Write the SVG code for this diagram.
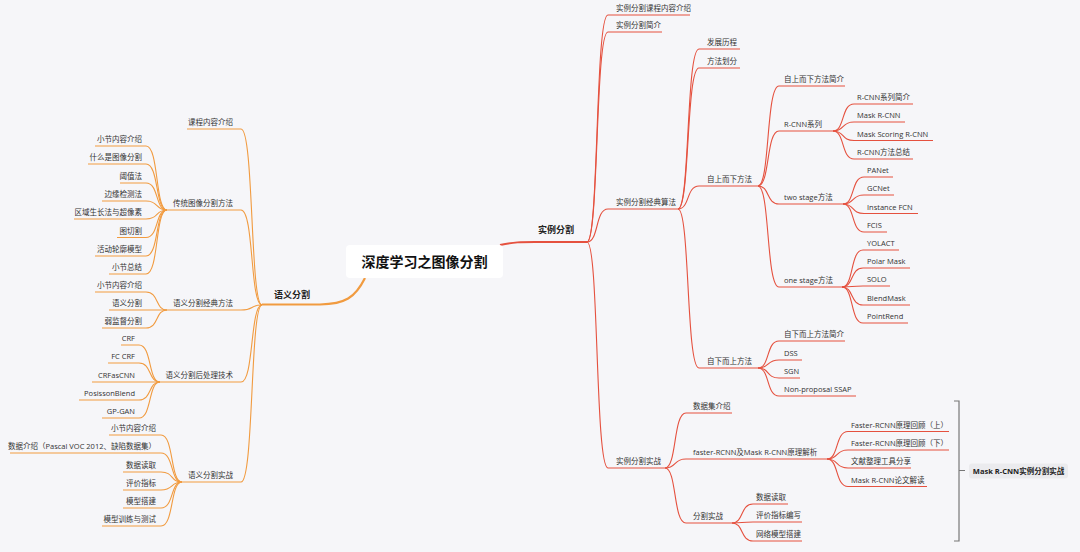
<svg xmlns="http://www.w3.org/2000/svg" width="1080" height="552" viewBox="0 0 1080 552">
<style>
.o{fill:none;stroke:#F19B40;stroke-width:1.1}
.r{fill:none;stroke:#E5513F;stroke-width:1.1}
.t{font-family:"Open Sans","Noto Sans CJK SC",sans-serif;font-size:7.5px;fill:#333}
.e{text-anchor:end}
.m{font-family:"Open Sans","Noto Sans CJK SC",sans-serif;font-size:9px;font-weight:bold;fill:#222}
</style>
<rect width="1080" height="552" fill="#F6F6F9"/>
<g id="connectors">
<path d="M500 245 C515 242 520 242 535 242 H587" class="r" style="stroke-width:2"/>
<path d="M365 278 C355 298 345 304 320 304.5 H262" class="o" style="stroke-width:2.2"/>
<g class="r">
<path d="M587 242 C599 242 595 15 608 15 H690"/>
<path d="M587 242 C599 242 595 32 608 32 H662"/>
<path d="M587 242 C599 242 595 209 608 209 H678"/>
<path d="M587 242 C599 242 595 468 608 468 H665"/>
<path d="M678 209 C690 209 686 49 699 49 H740"/>
<path d="M678 209 C690 209 686 68 699 68 H740"/>
<path d="M678 209 C690 209 686 186 699 186 H758"/>
<path d="M678 209 C690 209 686 368 699 368 H758"/>
<path d="M758 186 C770 186 766 86 779 86 H845"/>
<path d="M758 186 C770 186 766 131 779 131 H833"/>
<path d="M758 186 C770 186 766 204 779 204 H843"/>
<path d="M758 186 C770 186 766 287 779 287 H842"/>
<path d="M833 131 C845 131 841 104 854 104 H913"/>
<path d="M833 131 C845 131 841 122 854 122 H905"/>
<path d="M833 131 C845 131 841 140.5 854 140.5 H933"/>
<path d="M833 131 C845 131 841 159 854 159 H913"/>
<path d="M843 204 C855 204 851 177 864 177 H893"/>
<path d="M843 204 C855 204 851 195 864 195 H894"/>
<path d="M843 204 C855 204 851 213.5 864 213.5 H918"/>
<path d="M843 204 C855 204 851 232 864 232 H887"/>
<path d="M842 287 C854 287 850 250 863 250 H899"/>
<path d="M842 287 C854 287 850 268 863 268 H910"/>
<path d="M842 287 C854 287 850 286 863 286 H890"/>
<path d="M842 287 C854 287 850 305 863 305 H910"/>
<path d="M842 287 C854 287 850 323 863 323 H908"/>
<path d="M758 368 C770 368 766 341 779 341 H845"/>
<path d="M758 368 C770 368 766 360 779 360 H802"/>
<path d="M758 368 C770 368 766 378 779 378 H800"/>
<path d="M758 368 C770 368 766 396 779 396 H856"/>
<path d="M665 468 C677 468 673 413 686 413 H732"/>
<path d="M665 468 C677 468 673 459 686 459 H827"/>
<path d="M665 468 C677 468 673 523 686 523 H732"/>
<path d="M827 459 C839 459 835 431.5 848 431.5 H949"/>
<path d="M827 459 C839 459 835 450 848 450 H949"/>
<path d="M827 459 C839 459 835 468 848 468 H911"/>
<path d="M827 459 C839 459 835 486.5 848 486.5 H927"/>
<path d="M732 523 C744 523 740 504 753 504 H788"/>
<path d="M732 523 C744 523 740 522 753 522 H802"/>
<path d="M732 523 C744 523 740 541 753 541 H802"/>
</g>
<g class="o">
<path d="M262 305 C250 305 254 129 241 129 H187"/>
<path d="M262 305 C250 305 254 210 241 210 H167"/>
<path d="M262 305 C250 305 254 310 241 310 H167"/>
<path d="M262 305 C250 305 254 382 241 382 H160"/>
<path d="M262 305 C250 305 254 482 241 482 H182"/>
<path d="M167 210 C155 210 159 146 146 146 H95"/>
<path d="M167 210 C155 210 159 164 146 164 H88"/>
<path d="M167 210 C155 210 159 183 146 183 H120"/>
<path d="M167 210 C155 210 159 201 146 201 H102"/>
<path d="M167 210 C155 210 159 219 146 219 H74"/>
<path d="M167 210 C155 210 159 237.5 146 237.5 H117"/>
<path d="M167 210 C155 210 159 256 146 256 H95"/>
<path d="M167 210 C155 210 159 274 146 274 H109"/>
<path d="M167 310 C155 310 159 292 146 292 H95"/>
<path d="M167 310 C155 310 159 310 146 310 H109"/>
<path d="M167 310 C155 310 159 328 146 328 H102"/>
<path d="M160 382 C148 382 152 345 139 345 H121"/>
<path d="M160 382 C148 382 152 363 139 363 H108"/>
<path d="M160 382 C148 382 152 382 139 382 H92"/>
<path d="M160 382 C148 382 152 400 139 400 H79"/>
<path d="M160 382 C148 382 152 418 139 418 H102"/>
<path d="M182 482 C170 482 174 435 161 435 H109"/>
<path d="M182 482 C170 482 174 453 161 453 H10"/>
<path d="M182 482 C170 482 174 472 161 472 H123"/>
<path d="M182 482 C170 482 174 490 161 490 H123"/>
<path d="M182 482 C170 482 174 508 161 508 H123"/>
<path d="M182 482 C170 482 174 526 161 526 H102"/>
</g>
<path d="M954 401 H959 V541 H954 M959 470.5 H965" fill="none" stroke="#777" stroke-width="1.2"/>
</g>
<g id="root"><rect x="346" y="245" width="157" height="33" rx="4" fill="#fff"/><text x="424.5" y="267" text-anchor="middle" style="font-family:'Noto Sans CJK SC',sans-serif;font-size:14px;font-weight:bold;fill:#111">深度学习之图像分割</text></g>
<g id="n-slfg"><text class="m" x="274" y="298">语义分割</text></g>
<g id="n-slfgr"><text class="m" x="538" y="233">实例分割</text></g>
<g id="right-nodes">
<g id="r1"><text class="t" x="616" y="11">实例分割课程内容介绍</text></g>
<g id="r2"><text class="t" x="616" y="28">实例分割简介</text></g>
<g id="r3"><text class="t" x="616" y="205">实例分割经典算法</text></g>
<g id="r4"><text class="t" x="616" y="464">实例分割实战</text></g>
<g id="r31"><text class="t" x="707" y="45">发展历程</text></g>
<g id="r32"><text class="t" x="707" y="64">方法划分</text></g>
<g id="r33"><text class="t" x="707" y="182">自上而下方法</text></g>
<g id="r34"><text class="t" x="707" y="364">自下而上方法</text></g>
<g id="r331"><text class="t" x="784" y="82">自上而下方法简介</text></g>
<g id="r332"><text class="t" x="784" y="127">R-CNN系列</text></g>
<g id="r333"><text class="t" x="784" y="200">two stage方法</text></g>
<g id="r334"><text class="t" x="784" y="283">one stage方法</text></g>
<g id="r3321"><text class="t" x="857" y="100">R-CNN系列简介</text></g>
<g id="r3322"><text class="t" x="857" y="118">Mask R-CNN</text></g>
<g id="r3323"><text class="t" x="857" y="136.5">Mask Scoring R-CNN</text></g>
<g id="r3324"><text class="t" x="857" y="155">R-CNN方法总结</text></g>
<g id="r3331"><text class="t" x="867" y="173">PANet</text></g>
<g id="r3332"><text class="t" x="867" y="191">GCNet</text></g>
<g id="r3333"><text class="t" x="867" y="209.5">Instance FCN</text></g>
<g id="r3334"><text class="t" x="867" y="228">FCIS</text></g>
<g id="r3341"><text class="t" x="867" y="246">YOLACT</text></g>
<g id="r3342"><text class="t" x="867" y="264">Polar Mask</text></g>
<g id="r3343"><text class="t" x="867" y="282">SOLO</text></g>
<g id="r3344"><text class="t" x="867" y="301">BlendMask</text></g>
<g id="r3345"><text class="t" x="867" y="319">PointRend</text></g>
<g id="r341"><text class="t" x="784" y="337">自下而上方法简介</text></g>
<g id="r342"><text class="t" x="784" y="356">DSS</text></g>
<g id="r343"><text class="t" x="784" y="374">SGN</text></g>
<g id="r344"><text class="t" x="784" y="392">Non-proposal SSAP</text></g>
<g id="r41"><text class="t" x="693" y="409">数据集介绍</text></g>
<g id="r42"><text class="t" x="693" y="455">faster-RCNN及Mask R-CNN原理解析</text></g>
<g id="r43"><text class="t" x="693" y="519">分割实战</text></g>
<g id="r421"><text class="t" x="851" y="427.5">Faster-RCNN原理回顾（上）</text></g>
<g id="r422"><text class="t" x="851" y="446">Faster-RCNN原理回顾（下）</text></g>
<g id="r423"><text class="t" x="851" y="464">文献整理工具分享</text></g>
<g id="r424"><text class="t" x="851" y="482.5">Mask R-CNN论文解读</text></g>
<g id="r431"><text class="t" x="756" y="500">数据读取</text></g>
<g id="r432"><text class="t" x="756" y="518">评价指标编写</text></g>
<g id="r433"><text class="t" x="756" y="537">网络模型搭建</text></g>
<g id="summary"><rect x="969" y="463.5" width="99" height="15" rx="3" fill="#EBEBEE"/><text x="1018.5" y="474" text-anchor="middle" style="font-family:'Open Sans','Noto Sans CJK SC',sans-serif;font-size:7.5px;font-weight:bold;fill:#222">Mask R-CNN实例分割实战</text></g>
</g>
<g id="left-nodes">
<g id="l1"><text class="t e" x="233" y="125">课程内容介绍</text></g>
<g id="l2"><text class="t e" x="233" y="206">传统图像分割方法</text></g>
<g id="l3"><text class="t e" x="233" y="306">语义分割经典方法</text></g>
<g id="l4"><text class="t e" x="233" y="378">语义分割后处理技术</text></g>
<g id="l5"><text class="t e" x="233" y="478">语义分割实战</text></g>
<g id="l21"><text class="t e" x="142" y="142">小节内容介绍</text></g>
<g id="l22"><text class="t e" x="142" y="160">什么是图像分割</text></g>
<g id="l23"><text class="t e" x="142" y="179">阈值法</text></g>
<g id="l24"><text class="t e" x="142" y="197">边缘检测法</text></g>
<g id="l25"><text class="t e" x="142" y="215">区域生长法与超像素</text></g>
<g id="l26"><text class="t e" x="142" y="233.5">图切割</text></g>
<g id="l27"><text class="t e" x="142" y="252">活动轮廓模型</text></g>
<g id="l28"><text class="t e" x="142" y="270">小节总结</text></g>
<g id="l31"><text class="t e" x="142" y="288">小节内容介绍</text></g>
<g id="l32"><text class="t e" x="142" y="306">语义分割</text></g>
<g id="l33"><text class="t e" x="142" y="324">弱监督分割</text></g>
<g id="l41"><text class="t e" x="135" y="341">CRF</text></g>
<g id="l42"><text class="t e" x="135" y="359">FC CRF</text></g>
<g id="l43"><text class="t e" x="135" y="378">CRFasCNN</text></g>
<g id="l44"><text class="t e" x="135" y="396">PosissonBlend</text></g>
<g id="l45"><text class="t e" x="135" y="414">GP-GAN</text></g>
<g id="l51"><text class="t e" x="156" y="431">小节内容介绍</text></g>
<g id="l52"><text class="t e" x="156" y="449">数据介绍（Pascal VOC 2012、缺陷数据集）</text></g>
<g id="l53"><text class="t e" x="156" y="468">数据读取</text></g>
<g id="l54"><text class="t e" x="156" y="486">评价指标</text></g>
<g id="l55"><text class="t e" x="156" y="504">模型搭建</text></g>
<g id="l56"><text class="t e" x="156" y="522">模型训练与测试</text></g>
</g>
</svg>
